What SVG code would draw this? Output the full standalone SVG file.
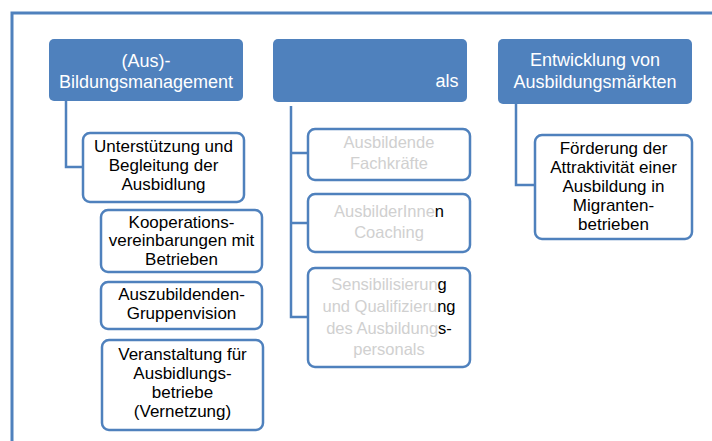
<svg xmlns="http://www.w3.org/2000/svg" width="712" height="441" viewBox="0 0 712 441">
<style>
.frame{fill:none;stroke:#4f81bd;stroke-width:3}
.hdr{fill:#4f81bd}
.box{fill:#fff;stroke:#4f81bd;stroke-width:2.5}
.conn{fill:none;stroke:#4f81bd;stroke-width:2.5}
.ht{font-family:"Liberation Sans",Arial,sans-serif;font-size:18px;fill:#fff;text-anchor:middle}
.ct{font-family:"Liberation Sans",Arial,sans-serif;font-size:17px;fill:#000;text-anchor:middle}
.ft{font-family:"Liberation Sans",Arial,sans-serif;font-size:16.5px;fill:#d0d0d0;text-anchor:middle}
.dk{fill:#000}
</style>
<rect width="712" height="441" fill="#fff"/>
<path class="frame" d="M12,441 V13 H712"/>
<g id="connectors">
<path class="conn" d="M66,101 V167 H83"/>
<path class="conn" d="M291,106 V317 H308 M291,153 H308 M291,223 H308"/>
<path class="conn" d="M516,104 V185 H535"/>
</g>
<g id="h1">
<rect class="hdr" x="49" y="39" width="194" height="62" rx="5"/>
<text class="ht" x="146" y="67">(Aus)-</text>
<text class="ht" x="146" y="88">Bildungsmanagement</text>
</g>
<g id="h2">
<rect class="hdr" x="273" y="39" width="194" height="63" rx="5"/>
<text class="ht" x="447" y="87">als</text>
</g>
<g id="h3">
<rect class="hdr" x="498" y="39" width="194" height="65" rx="5"/>
<text class="ht" x="595" y="66">Entwicklung von</text>
<text class="ht" x="595" y="88">Ausbildungsmärkten</text>
</g>
<g id="c1a">
<rect class="box" x="83" y="133" width="161" height="69" rx="7"/>
<text class="ct" x="163.5" y="152">Unterstützung und</text>
<text class="ct" x="163.5" y="171">Begleitung der</text>
<text class="ct" x="163.5" y="190">Ausbidlung</text>
</g>
<g id="c1b">
<rect class="box" x="101" y="210" width="161" height="62" rx="7"/>
<text class="ct" x="181.5" y="228">Kooperations-</text>
<text class="ct" x="181.5" y="246">vereinbarungen mit</text>
<text class="ct" x="181.5" y="265">Betrieben</text>
</g>
<g id="c1c">
<rect class="box" x="101" y="282" width="161" height="47" rx="7"/>
<text class="ct" x="181.5" y="300">Auszubildenden-</text>
<text class="ct" x="181.5" y="319">Gruppenvision</text>
</g>
<g id="c1d">
<rect class="box" x="102" y="340" width="161" height="90" rx="7"/>
<text class="ct" x="182.5" y="360">Veranstaltung für</text>
<text class="ct" x="182.5" y="379">Ausbidlungs-</text>
<text class="ct" x="182.5" y="398">betriebe</text>
<text class="ct" x="182.5" y="417">(Vernetzung)</text>
</g>
<g id="c2a">
<rect class="box" x="308" y="129" width="162" height="51" rx="7"/>
<text class="ft" x="389" y="148">Ausbildende</text>
<text class="ft" x="389" y="169">Fachkräfte</text>
</g>
<g id="c2b">
<rect class="box" x="308" y="194" width="162" height="58" rx="7"/>
<text class="ft" x="389" y="217">AusbilderInne<tspan class="dk">n</tspan></text>
<text class="ft" x="389" y="238">Coaching</text>
</g>
<g id="c2c">
<rect class="box" x="308" y="268" width="162" height="99" rx="7"/>
<text class="ft" x="389" y="290">Sensibilisierun<tspan class="dk">g</tspan></text>
<text class="ft" x="389" y="312">und Qualifizieru<tspan class="dk">ng</tspan></text>
<text class="ft" x="389" y="334">des Ausbildung<tspan class="dk">s-</tspan></text>
<text class="ft" x="389" y="355">personals</text>
</g>
<g id="c3a">
<rect class="box" x="535" y="135" width="157" height="104" rx="7"/>
<text class="ct" x="613.5" y="154">Förderung der</text>
<text class="ct" x="613.5" y="173">Attraktivität einer</text>
<text class="ct" x="613.5" y="192">Ausbildung in</text>
<text class="ct" x="613.5" y="211">Migranten-</text>
<text class="ct" x="613.5" y="230">betrieben</text>
</g>
</svg>
